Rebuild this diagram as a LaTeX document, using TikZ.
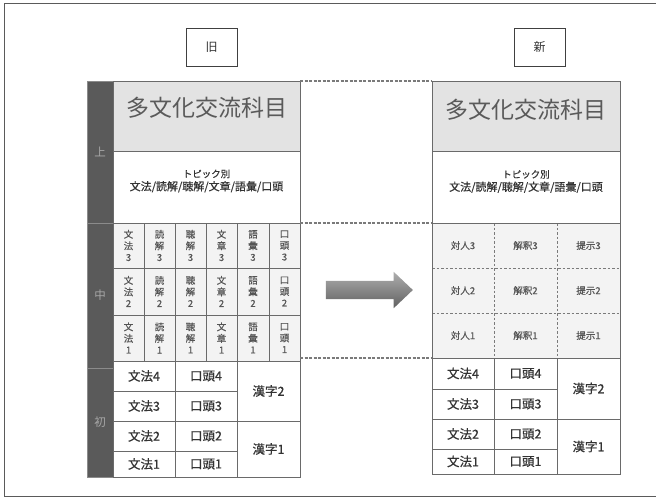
\documentclass[tikz,border=0pt]{standalone}
\usepackage{fontspec}
\setmainfont{Noto Sans CJK JP}
\usetikzlibrary{shapes.arrows}
\definecolor{linec}{HTML}{6A6A6A}
\definecolor{topfill}{HTML}{E3E3E3}
\definecolor{midfill}{HTML}{F3F3F3}
\definecolor{barfill}{HTML}{5A5A5A}
\definecolor{bartext}{HTML}{A8A8A8}
\definecolor{bigtext}{HTML}{5A5A5A}
\definecolor{bodytext}{HTML}{333333}
\definecolor{smalltext}{HTML}{555555}
\definecolor{dashc}{HTML}{7A7A7A}
\definecolor{framec}{HTML}{5A5A5A}
\newcommand{\myfs}[2]{\fontsize{#1}{#2}\selectfont}
\newcommand{\cellbox}[7][]{%
  \node[cellb,#1,minimum width={(#5-#3)*1pt},minimum height={(#6-#4)*1pt}] (#2) at ({(#3+#5)/2},{(#4+#6)/2}) {#7};}
\tikzset{
  cellb/.style={rectangle,inner sep=0pt,outer sep=0pt,draw=linec,line width=0.9pt,align=center},
  topcell/.style={fill=topfill},
  plaincell/.style={fill=white},
  midcell/.style={fill=midfill,text=smalltext,font=\myfs{9.5}{11.5}\addfontfeature{FakeBold=0.3}},
  rmidcell/.style={fill=midfill,draw=none,text=smalltext,font=\myfs{9.5}{11}\addfontfeature{FakeBold=0.3}},
  botcell/.style={fill=white,text=bodytext,font=\myfs{12.5}{14}\addfontfeature{FakeBold=0.6}},
  barcell/.style={fill=barfill,draw=barfill!70!white,line width=0.6pt,text=bartext,font=\myfs{11.5}{13}},
  bigtitle/.style={text=bigtext,font=\myfs{23}{25},inner sep=0pt},
  topictext/.style={text=bodytext,align=center,inner sep=0pt,font=\myfs{11}{13}\addfontfeature{FakeBold=0.4}},
  titlebox/.style={rectangle,draw=black!75,line width=1pt,minimum width=51pt,minimum height=38pt,inner sep=0pt,font=\myfs{12}{14},text=bodytext},
  dashl/.style={draw=dashc,line width=1.3pt,dash pattern=on 3pt off 1.5pt},
  idash/.style={draw=dashc,line width=0.8pt,dash pattern=on 2.5pt off 2pt},
  gridl/.style={draw=linec,line width=0.9pt},
  framel/.style={draw=framec,line width=1pt},
}
\begin{document}
\begin{tikzpicture}[x=1pt,y=-1pt]
\useasboundingbox (0,0) rectangle (656,498);
\draw[framel] (656,3) -- (4,3) -- (4,496) -- (656,496);

% title boxes
\node[titlebox] (old) at (211.5,47) {旧};
\node[titlebox] (new) at (539.5,47) {新};

% left side bar
\cellbox[barcell]{Bu}{87}{81}{113}{223}{上}
\cellbox[barcell]{Bm}{87}{223}{113}{368}{中}
\cellbox[barcell]{Bb}{87}{368}{113}{477}{初}

% left table
\cellbox[topcell]{Ltop}{113}{81}{300}{151}{}
\node[bigtitle] (Ltitle) at (207,108) {多文化交流科目};
\cellbox[plaincell]{Ltopic}{113}{151}{300}{223}{}
\node[topictext] (Ltt) at (206.5,181) {{\myfs{9.5}{13}トピック別}\\文法/読解/聴解/文章/語彙/口頭};

\foreach \r/\ya/\yb in {3/223/268, 2/268/315, 1/315/361}{
  \foreach \c/\xa/\xb/\ta/\tb in {1/113/144/文/法, 2/144/175/読/解, 3/175/206/聴/解, 4/206/237/文/章, 5/237/269/語/彙, 6/269/300/口/頭}{
    \cellbox[midcell]{Lm\c\r}{\xa}{\ya}{\xb}{\yb}{\ta\\\tb\\\r}
  }
}
\foreach \r/\ya/\yb in {4/361/391, 3/391/421, 2/421/451, 1/451/477}{
  \cellbox[botcell]{Lba\r}{113}{\ya}{175}{\yb}{文法\r}
  \cellbox[botcell]{Lbb\r}{175}{\ya}{237}{\yb}{口頭\r}
}
\cellbox[botcell]{LK2}{237}{361}{300}{421}{漢字2}
\cellbox[botcell]{LK1}{237}{421}{300}{477}{漢字1}

% right table
\cellbox[topcell]{Rtop}{432}{81}{620}{151}{}
\node[bigtitle] (Rtitle) at (525.5,110) {多文化交流科目};
\cellbox[plaincell]{Rtopic}{432}{151}{620}{223}{}
\node[topictext] (Rtt) at (526,181.5) {{\myfs{9.5}{13}トピック別}\\文法/読解/聴解/文章/語彙/口頭};

\foreach \r/\ya/\yb in {3/223/268, 2/268/313, 1/313/358}{
  \foreach \c/\xa/\xb/\t in {1/432/494/対人, 2/494/557/解釈, 3/557/620/提示}{
    \cellbox[rmidcell]{Rm\c\r}{\xa}{\ya}{\xb}{\yb}{\t\r}
  }
}
\draw[idash] (Rm13.north east) -- (Rm11.south east);
\draw[idash] (Rm23.north east) -- (Rm21.south east);
\draw[idash] (Rm13.south west) -- (Rm33.south east);
\draw[idash] (Rm12.south west) -- (Rm32.south east);
\draw[gridl] (Rm13.north west) rectangle (Rm31.south east);

\foreach \r/\ya/\yb in {4/358/389, 3/389/419, 2/419/449, 1/449/474}{
  \cellbox[botcell]{Rba\r}{432}{\ya}{494}{\yb}{文法\r}
  \cellbox[botcell]{Rbb\r}{494}{\ya}{557}{\yb}{口頭\r}
}
\cellbox[botcell]{RK2}{557}{358}{620}{419}{漢字2}
\cellbox[botcell]{RK1}{557}{419}{620}{474}{漢字1}

% dashed connectors
\draw[dashl] (Ltop.north east) -- (Rtop.north west);
\draw[dashl] (Ltopic.south east) -- (Rtopic.south west);
\draw[dashl] (Rm11.south west -| Ltop.east) -- (Rm11.south west);

% arrow
\node[single arrow,minimum height=87pt,minimum width=36pt,single arrow head extend=9pt,
      single arrow tip angle=87,inner sep=0pt,text width=0pt,text height=9pt,text depth=9pt,draw=none,
      top color=black!32,bottom color=black!62] (arr) at (364.5,290) {};
\end{tikzpicture}
\end{document}
